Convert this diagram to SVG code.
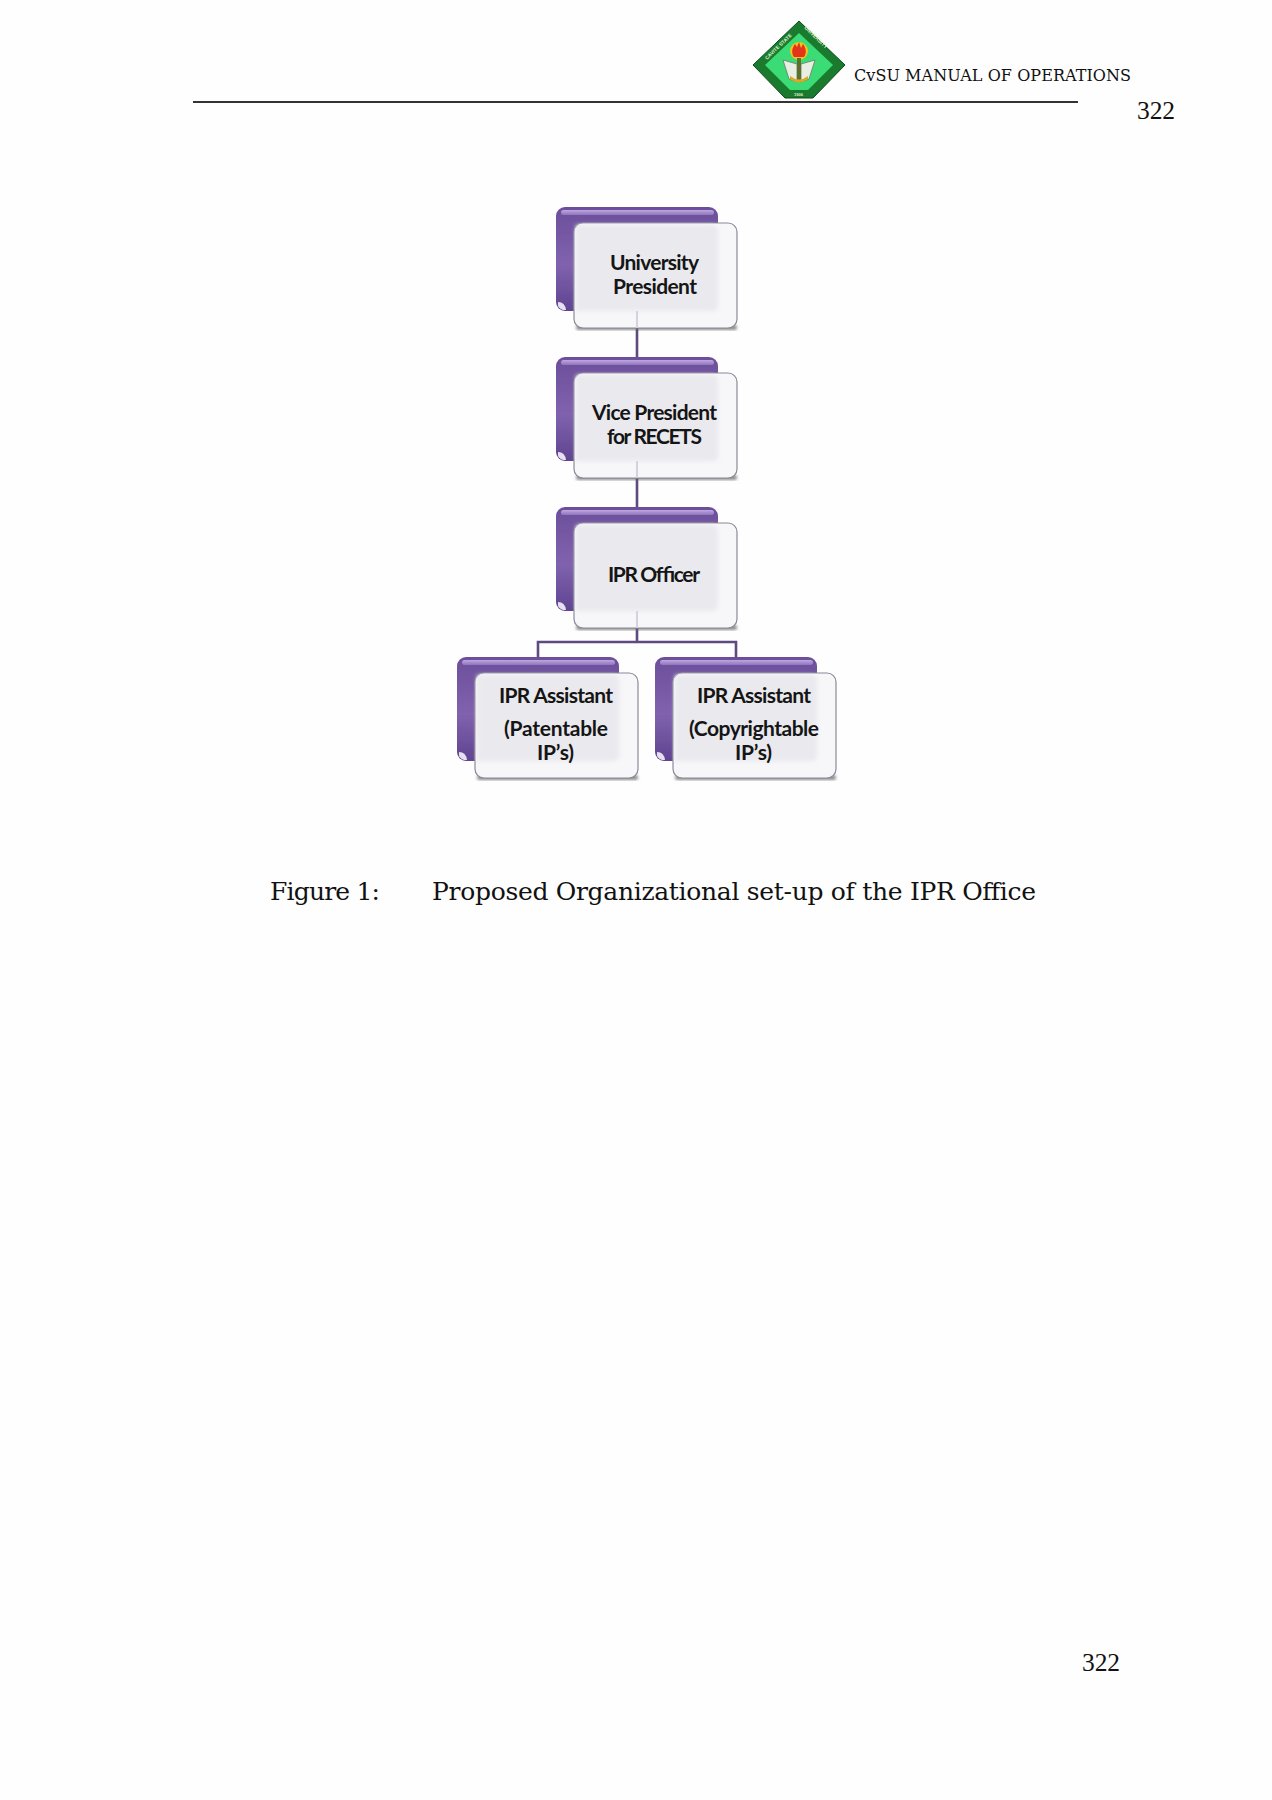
<svg xmlns="http://www.w3.org/2000/svg" width="1272" height="1800" viewBox="0 0 1272 1800">
<style>
.lbl{font-family:"Lato","Liberation Sans",sans-serif;font-weight:700;font-size:21px;fill:#151515}
.hd{font-family:"DejaVu Serif","Liberation Serif",serif;fill:#111}
.tm{font-family:"Liberation Serif",serif;font-size:25.5px;fill:#111}
.conn{fill:none;stroke:#5d4a80;stroke-width:2.6}
.lg{font-family:"Liberation Sans",sans-serif;font-weight:700;font-size:5px;fill:#dff5c8}
</style>
<defs>
<linearGradient id="back" x1="0" y1="0" x2="0" y2="1"><stop offset="0" stop-color="#6c4e9a"/><stop offset=".55" stop-color="#8062ae"/><stop offset="1" stop-color="#5f4490"/></linearGradient>
<linearGradient id="hl" x1="0" y1="0" x2="0" y2="1"><stop offset="0" stop-color="#bda8e0"/><stop offset="1" stop-color="#8f74bc"/></linearGradient>
<filter id="sh" x="-10%" y="-10%" width="120%" height="125%"><feGaussianBlur stdDeviation="1.6"/></filter>
<filter id="soft" x="-5%" y="-5%" width="110%" height="110%"><feGaussianBlur stdDeviation="0.4"/></filter>
<filter id="wide" x="-10%" y="-10%" width="120%" height="120%"><feGaussianBlur stdDeviation="2"/></filter>
<g id="box">
<g filter="url(#soft)">
<rect x="0" y="0" width="162" height="104" rx="9" fill="url(#back)"/>
<rect x="5" y="3" width="153" height="5" rx="2.5" fill="url(#hl)"/>
<path d="M2 95q7 0 8 8l-3 0q-5-2-5-5z" fill="#e6e0f0"/>
<rect x="20" y="118" width="161" height="5" rx="2.5" fill="#666" opacity=".75" filter="url(#sh)"/>
<rect x="18" y="16" width="163" height="105" rx="9" fill="#f7f7f9" stroke="#8a8a98" stroke-width="1.2"/>
</g>
<path d="M20 18H156Q162 18 162 24V98Q162 104 156 104H20z" fill="#e9e9ee" filter="url(#wide)"/>
</g>
</defs>
<rect width="1272" height="1800" fill="#fefefe"/>
<g id="connectors">
<path class="conn" d="M637 311V357M637 461V507M637 610V642M538 657V642H736V657"/>
</g>
<g id="node-president"><use href="#box" x="556" y="207"/>
<path d="M637 311V328" stroke="#d5d2dd" stroke-width="2"/>
<text class="lbl" x="610" y="270" textLength="89">University</text>
<text class="lbl" x="613" y="294" textLength="84">President</text></g>
<g id="node-vp"><use href="#box" x="556" y="357"/>
<path d="M637 461V478" stroke="#d5d2dd" stroke-width="2"/>
<text class="lbl" x="592" y="420" textLength="125">Vice President</text>
<text class="lbl" x="607" y="444" textLength="95">for RECETS</text></g>
<g id="node-officer"><use href="#box" x="556" y="507"/>
<path d="M637 611V628" stroke="#d5d2dd" stroke-width="2"/>
<text class="lbl" x="608" y="582" textLength="92">IPR Officer</text></g>
<g id="node-patentable"><use href="#box" x="457" y="657"/>
<text class="lbl" x="499" y="703" textLength="114">IPR Assistant</text>
<text class="lbl" x="504" y="736" textLength="104">(Patentable</text>
<text class="lbl" x="537" y="760" textLength="37">IP’s)</text></g>
<g id="node-copyrightable"><use href="#box" x="655" y="657"/>
<text class="lbl" x="697" y="703" textLength="114">IPR Assistant</text>
<text class="lbl" x="689" y="736" textLength="130">(Copyrightable</text>
<text class="lbl" x="735" y="760" textLength="37">IP’s)</text></g>
<g id="logo">
<path d="M799 21L845 65L813 98H785L753 65Z" fill="#1a7a2e" stroke="#0d4d1c" stroke-width="1"/>
<path d="M799 33L833 65L808 90H790L765 65Z" fill="#3bdc75"/>
<circle cx="799" cy="51" r="9" fill="#f7c21d"/>
<path d="M795 44c-3 4-4 9-1 13h10c3-4 2-9-1-13l-2 4-2-6-2 5z" fill="#e2361c"/>
<path d="M783 60L797 64V82L789 79Z" fill="#e8eee2" stroke="#6a7a66" stroke-width=".8"/>
<path d="M815 60L801 64V82L809 79Z" fill="#e8eee2" stroke="#6a7a66" stroke-width=".8"/>
<rect x="797" y="58" width="4" height="22" fill="#5d6f28"/>
<path d="M790 76q9 7 18 0v3q-9 7-18 0z" fill="#d9a928"/>
<text class="lg" transform="translate(767 60) rotate(-44)">CAVITE STATE</text>
<text class="lg" transform="translate(804 28) rotate(44)">UNIVERSITY</text>
<text class="lg" transform="translate(794 96)" style="font-size:4px">1906</text>
</g>
<g id="header">
<text class="hd" x="854" y="81" font-size="16" textLength="277">CvSU MANUAL OF OPERATIONS</text>
<path d="M193 102H1078" stroke="#333" stroke-width="1.8"/>
<text class="tm" x="1137" y="119" textLength="38">322</text>
</g>
<g id="caption">
<text class="hd" x="270" y="900" font-size="25" textLength="110">Figure 1:</text>
<text class="hd" x="432" y="900" font-size="25" textLength="604">Proposed Organizational set-up of the IPR Office</text>
</g>
<text class="tm" x="1082" y="1671" textLength="38">322</text>
</svg>
